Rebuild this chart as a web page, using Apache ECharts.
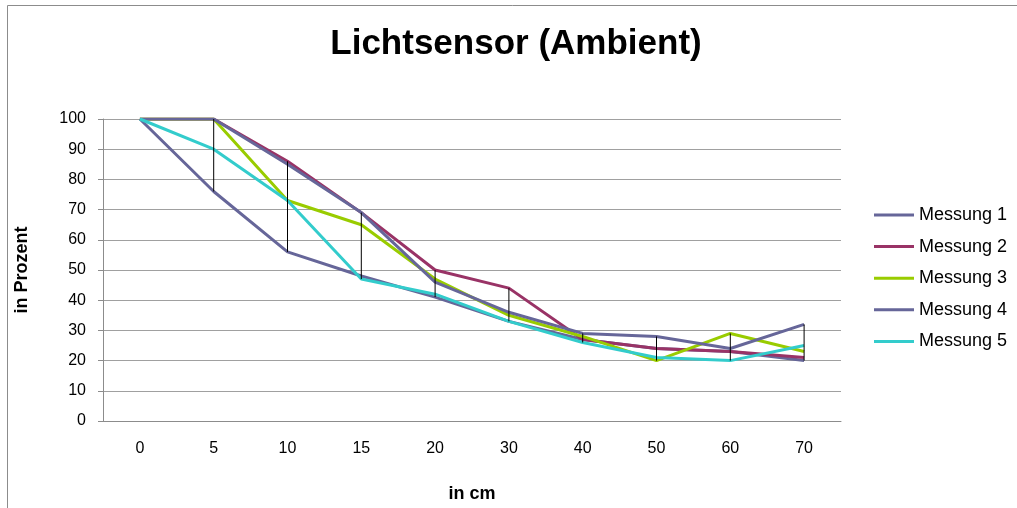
<!DOCTYPE html>
<html>
<head>
<meta charset="utf-8">
<script src="https://cdn.jsdelivr.net/npm/echarts@6/dist/echarts.min.js"></script>
<style>html,body{margin:0;padding:0;background:#fff;}#c{width:1017px;height:508px;}</style>
</head>
<body>
<div id="c"></div>
<script>
var categories = ['0','5','10','15','20','30','40','50','60','70'];
var messung1 = [100, 76, 56, 48, 41, 33, 27, 24, 23, 20];
var messung2 = [100, 100, 86, 69, 50, 44, 27, 24, 23, 21];
var messung3 = [100, 100, 73, 65, 47, 35, 28, 20, 29, 23];
var messung4 = [100, 100, 85, 69, 46, 36, 29, 28, 24, 32];
var messung5 = [100, 90, 73, 47, 42, 33, 26, 21, 20, 25];
var seriesNames = ['Messung 1','Messung 2','Messung 3','Messung 4','Messung 5'];
var yTicks = [0, 100, 10];

var all = [messung1, messung2, messung3, messung4, messung5];
var colors = ['#666699', '#993366', '#99CC00', '#666699', '#33CCCC'];
var hiLo = categories.map(function (c, i) {
  var vals = all.map(function (s) { return s[i]; });
  return [i, Math.max.apply(null, vals), Math.min.apply(null, vals)];
});

var FONT = 'Liberation Sans, Arial, sans-serif';
var chart = echarts.init(document.getElementById('c'), null, {renderer: 'canvas'});
var series = all.map(function (d, k) {
  return {
    name: seriesNames[k], type: 'line', data: d, symbol: 'none',
    lineStyle: {color: colors[k], width: 3}, itemStyle: {color: colors[k]},
    z: 2, animation: false
  };
});
series.push({
  type: 'custom', name: 'hilo', data: hiLo, z: 3, animation: false, silent: true,
  renderItem: function (params, api) {
    var p1 = api.coord([api.value(0), api.value(1)]);
    var p2 = api.coord([api.value(0), api.value(2)]);
    return {type: 'line', shape: {x1: p1[0], y1: p1[1], x2: p2[0], y2: p2[1]},
      style: {stroke: '#000', lineWidth: 1}};
  }
});

chart.setOption({
  animation: false,
  backgroundColor: '#fff',
  title: {
    text: 'Lichtsensor (Ambient)', left: 511, top: 22, textAlign: 'center',
    textStyle: {fontFamily: FONT, fontSize: 35, fontWeight: 'bold', color: '#000'}
  },
  graphic: [{
    type: 'polyline', shape: {points: [[7.5, 508], [7.5, 5.5], [1017, 5.5]]},
    style: {stroke: '#8c8c8c', lineWidth: 1, fill: null}, silent: true
  }],
  legend: {
    orient: 'vertical', left: 874, top: 206, padding: 0,
    data: seriesNames.map(function (n) { return {name: n, icon: 'rect'}; }),
    itemWidth: 40, itemHeight: 3, itemGap: 13.6,
    textStyle: {fontFamily: FONT, fontSize: 18, color: '#000', padding: [0, 0, 0, 0]}
  },
  grid: {left: 103, right: 176, top: 119, bottom: 82, containLabel: false},
  xAxis: {
    type: 'category', data: categories, boundaryGap: true,
    name: 'in cm', nameLocation: 'middle', nameGap: 64,
    nameTextStyle: {fontFamily: FONT, fontSize: 18, fontWeight: 'bold', color: '#000'},
    axisLine: {lineStyle: {color: '#8c8c8c', width: 1}},
    axisTick: {show: false},
    axisLabel: {fontFamily: FONT, fontSize: 16, color: '#000', margin: 20},
    splitLine: {show: false}
  },
  yAxis: {
    type: 'value', min: yTicks[0], max: yTicks[1], interval: yTicks[2],
    name: 'in Prozent', nameLocation: 'middle', nameGap: 72, nameRotate: 90,
    nameTextStyle: {fontFamily: FONT, fontSize: 18, fontWeight: 'bold', color: '#000'},
    axisLine: {show: true, lineStyle: {color: '#8c8c8c', width: 1}},
    axisTick: {show: true, inside: false, length: 5, lineStyle: {color: '#8c8c8c'}},
    axisLabel: {fontFamily: FONT, fontSize: 16, color: '#000', margin: 17},
    splitLine: {show: true, lineStyle: {color: '#a0a0a0', width: 1}}
  },
  series: series
});
</script>
</body>
</html>
